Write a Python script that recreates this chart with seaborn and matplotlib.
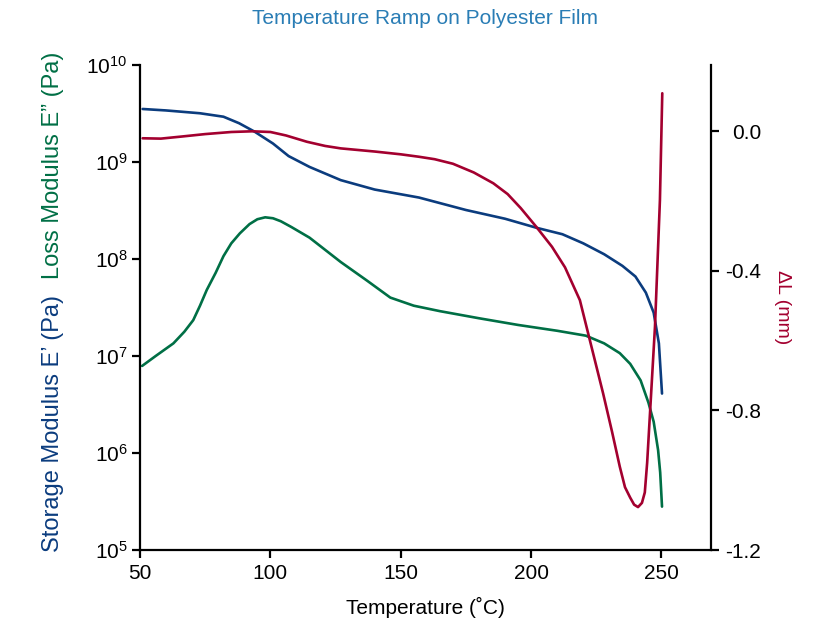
import matplotlib
matplotlib.use("Agg")
import matplotlib.pyplot as plt
from matplotlib.ticker import LogLocator, NullLocator, FixedLocator, FormatStrFormatter
import seaborn as sns

# values
temp_storage = [51, 60, 73, 82, 88, 94, 101, 107, 115, 127, 140, 157, 175, 190,
                202, 212, 220, 228, 235, 240, 244, 247, 249, 250.2]
storage_modulus = [3.52e9, 3.4e9, 3.18e9, 2.93e9, 2.51e9, 2.05e9, 1.55e9, 1.15e9,
                   8.9e8, 6.5e8, 5.2e8, 4.3e8, 3.2e8, 2.6e8, 2.1e8, 1.8e8, 1.45e8,
                   1.12e8, 8.5e7, 6.6e7, 4.5e7, 2.8e7, 1.35e7, 4.1e6]

temp_loss = [50.8, 56, 62.8, 67, 70.4, 73, 75.6, 79, 82, 85, 88.3, 92, 95, 98, 101,
             104, 108, 115, 127, 137, 146, 155, 165, 180, 195, 210, 221, 228, 234,
             238, 242, 245, 247, 248.7, 249.5, 250.2]
loss_modulus = [7.9e6, 1.0e7, 1.35e7, 1.78e7, 2.34e7, 3.3e7, 4.8e7, 7.2e7, 1.07e8,
                1.45e8, 1.84e8, 2.29e8, 2.57e8, 2.69e8, 2.63e8, 2.45e8, 2.14e8,
                1.66e8, 9.3e7, 6.0e7, 4.0e7, 3.3e7, 2.9e7, 2.45e7, 2.09e7, 1.82e7,
                1.62e7, 1.35e7, 1.07e7, 8.3e6, 5.6e6, 3.3e6, 2.1e6, 1.07e6, 6.3e5, 2.8e5]

temp_dl = [51, 58, 66, 75, 85, 93, 100, 106, 114, 121, 127, 140, 150, 157, 163, 170,
           178, 185.5, 191, 196, 202, 208, 213, 218.7, 222.5, 227.6, 231, 234, 236,
           238, 239.5, 241, 242.5, 243.6, 244.5, 245.5, 247.5, 248.5, 249.4, 250.3]
delta_l = [-0.02, -0.021, -0.015, -0.008, -0.002, 0.0, -0.002, -0.012, -0.03, -0.042,
           -0.049, -0.058, -0.066, -0.073, -0.08, -0.093, -0.118, -0.149, -0.18, -0.22,
           -0.274, -0.331, -0.39, -0.484, -0.598, -0.751, -0.86, -0.961, -1.02, -1.05,
           -1.07, -1.077, -1.065, -1.035, -0.95, -0.82, -0.56, -0.37, -0.197, 0.109]

dl_ticks = [0.0, -0.4, -0.8, -1.2]

blue = "#0b3c7e"
green = "#006f45"
red = "#a3002f"
title_blue = "#2a7db5"

sns.set_style("ticks")
plt.rcParams["font.family"] = ["Liberation Sans", "DejaVu Sans"]
plt.rcParams["axes.linewidth"] = 1.6
plt.rcParams["axes.edgecolor"] = "black"
plt.rcParams["text.color"] = "black"
plt.rcParams["axes.labelcolor"] = "black"
plt.rcParams["xtick.color"] = "black"
plt.rcParams["ytick.color"] = "black"

fig = plt.figure(figsize=(8.37, 6.25), dpi=100)
ax = fig.add_axes([0.1673, 0.12, 0.6822, 0.776])
ax2 = ax.twinx()

sns.lineplot(x=temp_storage, y=storage_modulus, ax=ax, color=blue, lw=1.9, estimator=None)
sns.lineplot(x=temp_loss, y=loss_modulus, ax=ax, color=green, lw=1.9, estimator=None)
sns.lineplot(x=temp_dl, y=delta_l, ax=ax2, color=red, lw=1.9, estimator=None, sort=False)

ax.set_yscale("log")
ax.set_ylim(1e5, 1e10)
ax.set_xlim(50, 269)
ax.set_xticks([50, 100, 150, 200, 250])
ax.yaxis.set_major_locator(LogLocator(base=10, numticks=12))
ax.yaxis.set_minor_locator(NullLocator())
ax.tick_params(axis="both", labelsize=15, length=6, width=1.6, pad=3)
ax.tick_params(axis="x", pad=4)

ax2.set_ylim(-1.2, 0.19)
ax2.yaxis.set_major_locator(FixedLocator(dl_ticks))
ax2.yaxis.set_major_formatter(FormatStrFormatter("%.1f"))
ax2.tick_params(axis="y", labelsize=15, length=6, width=1.6, pad=30)
for lbl in ax2.get_yticklabels():
    lbl.set_horizontalalignment("right")

for side in ["top", "right"]:
    ax.spines[side].set_visible(False)
for side in ["top", "left", "bottom"]:
    ax2.spines[side].set_visible(False)

ax.set_xlabel("Temperature (˚C)", fontsize=15, labelpad=10)
ax.set_ylabel("")
ax2.set_ylabel("ΔL (mm)", fontsize=14, color=red, rotation=270, labelpad=2)
ax2.yaxis.set_label_coords(1.14, 0.5)

fig.text(0.063, 1 - 552 / 625, "Storage Modulus E’ (Pa)", rotation=90,
         ha="center", va="bottom", color=blue, fontsize=17)
fig.text(0.063, 1 - 52 / 625, "Loss Modulus E” (Pa)", rotation=90,
         ha="center", va="top", color=green, fontsize=17)

fig.text(0.508, 1 - 18 / 625, "Temperature Ramp on Polyester Film",
         ha="center", va="center", color=title_blue, fontsize=15)

fig.savefig("out.png", dpi=100)
